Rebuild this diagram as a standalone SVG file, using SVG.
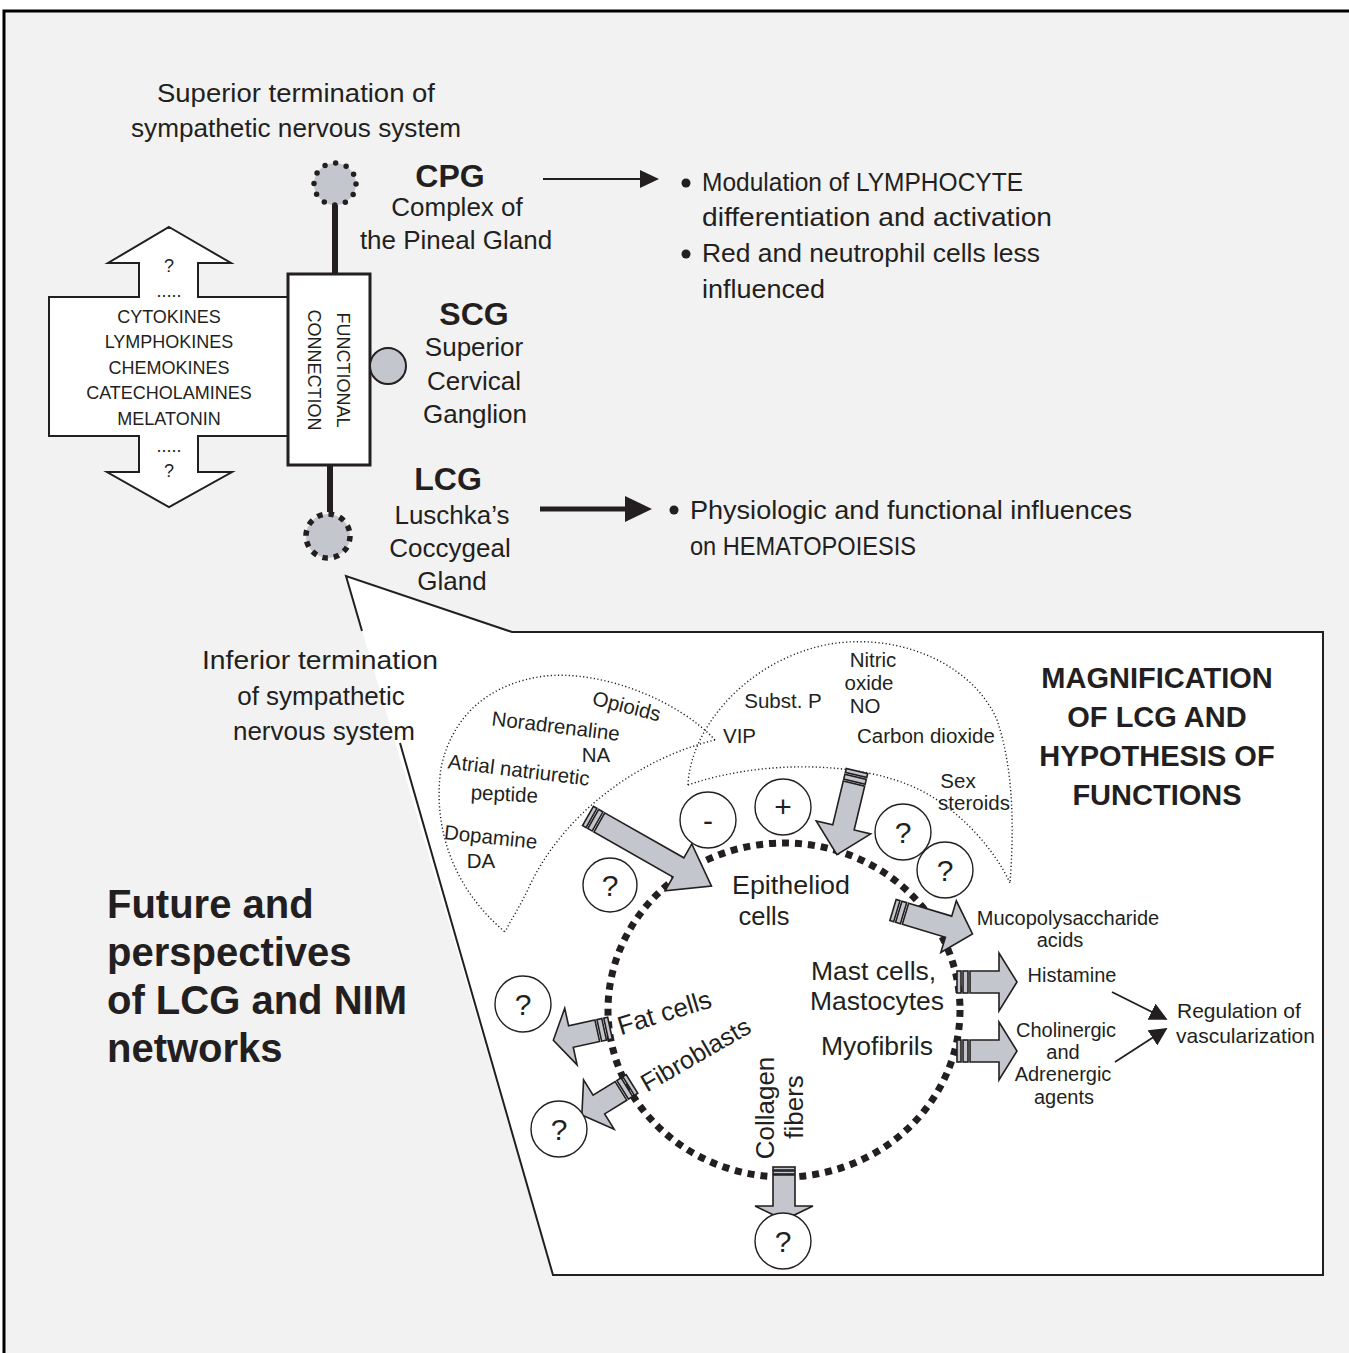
<svg xmlns="http://www.w3.org/2000/svg" width="1349" height="1353" viewBox="0 0 1349 1353">
<defs>
<style>
text{font-family:"Liberation Sans",Arial,sans-serif;fill:#231f20}
.t26{font-size:26px}
.b32{font-size:32px;font-weight:bold}
.r25{font-size:25px}
.c18{font-size:18px}
.f20{font-size:20.5px}
.s20{font-size:20px}
.m{text-anchor:middle}
.dot{fill:none;stroke:#231f20;stroke-width:1.4;stroke-dasharray:1.2 2.4}
.ga{fill:#c3c6cc;stroke:#231f20;stroke-width:1.6;stroke-linejoin:miter}
.qc{fill:#fff;stroke:#231f20;stroke-width:1.4}
.q{font-size:30px;text-anchor:middle}
</style>
<marker id="ah2" viewBox="0 0 10 10" refX="9" refY="5" markerWidth="18" markerHeight="18" markerUnits="userSpaceOnUse" orient="auto"><path d="M0,0 L10,5 L0,10 Z" fill="#231f20"/></marker>
</defs>
<rect x="0" y="0" width="1349" height="1353" fill="#fff"/>
<rect x="4" y="11" width="1370" height="1370" fill="#f2f2f2" stroke="#000" stroke-width="3"/>

<g id="magnification-callout">
<path d="M346,576 L512,632 L1323,632 L1323,1275 L553,1275 Z" fill="#fff"/>
<path d="M362,631 L346,576 L512,632 L1323,632 L1323,1275 L553,1275 L400,743" fill="none" stroke="#231f20" stroke-width="2"/>
</g>

<g id="top-label">
<text class="t26 m" x="296" y="102" textLength="278" lengthAdjust="spacingAndGlyphs">Superior termination of</text>
<text class="t26 m" x="296" y="137" textLength="330" lengthAdjust="spacingAndGlyphs">sympathetic nervous system</text>
</g>

<g id="connectors">
<line x1="335" y1="205" x2="335" y2="274" stroke="#231f20" stroke-width="6"/>
<line x1="330" y1="465" x2="330" y2="512" stroke="#231f20" stroke-width="6"/>
<line x1="543" y1="179" x2="642" y2="179" stroke="#231f20" stroke-width="2"/>
<path d="M640,170 L659,179 L640,188 Z" fill="#231f20"/>
<line x1="540" y1="509" x2="627" y2="509" stroke="#231f20" stroke-width="5"/>
<path d="M625,496 L652,509 L625,522 Z" fill="#231f20"/>
<line x1="1112" y1="992" x2="1166" y2="1019" stroke="#231f20" stroke-width="1.8" marker-end="url(#ah2)"/>
<line x1="1115" y1="1062" x2="1166" y2="1029" stroke="#231f20" stroke-width="1.8" marker-end="url(#ah2)"/>
</g>

<g id="double-arrow">
<path d="M169,227 L231,263 L198,263 L198,297 L288,297 L288,436 L198,436 L198,472 L232,472 L169,507 L107,472 L139,472 L139,436 L49,436 L49,297 L139,297 L139,263 L108,263 Z" fill="#fff" stroke="#231f20" stroke-width="2"/>
<text class="c18 m" x="169" y="272">?</text>
<text class="c18 m" x="169" y="297">.....</text>
<text class="c18 m" x="169" y="323">CYTOKINES</text>
<text class="c18 m" x="169" y="348">LYMPHOKINES</text>
<text class="c18 m" x="169" y="374">CHEMOKINES</text>
<text class="c18 m" x="169" y="399">CATECHOLAMINES</text>
<text class="c18 m" x="169" y="425">MELATONIN</text>
<text class="c18 m" x="169" y="452">.....</text>
<text class="c18 m" x="169" y="477">?</text>
</g>

<g id="functional-connection">
<rect x="288" y="274" width="82" height="191" fill="#fff" stroke="#231f20" stroke-width="3"/>
<text class="c18 m" transform="translate(337,370) rotate(90)">FUNCTIONAL</text>
<text class="c18 m" transform="translate(308,370) rotate(90)">CONNECTION</text>
</g>

<g id="cpg">
<circle cx="335" cy="184" r="21" fill="#c3c6cc" stroke="#231f20" stroke-width="5.5" stroke-linecap="round" stroke-dasharray="0 11"/>
<text class="b32 m" x="450" y="187">CPG</text>
<text class="t26 m" x="457" y="216">Complex of</text>
<text class="t26 m" x="456" y="249">the Pineal Gland</text>
</g>

<g id="scg">
<circle cx="388" cy="366" r="18" fill="#c3c6cc" stroke="#231f20" stroke-width="2"/>
<text class="b32 m" x="474" y="325">SCG</text>
<text class="t26 m" x="474" y="356">Superior</text>
<text class="t26 m" x="474" y="390">Cervical</text>
<text class="t26 m" x="475" y="423">Ganglion</text>
</g>

<g id="lcg">
<circle cx="328" cy="536" r="22" fill="#c3c6cc" stroke="#231f20" stroke-width="5.5" stroke-dasharray="5.5 6"/>
<text class="b32 m" x="448" y="490">LCG</text>
<text class="t26 m" x="452" y="524">Luschka’s</text>
<text class="t26 m" x="450" y="557">Coccygeal</text>
<text class="t26 m" x="452" y="590">Gland</text>
</g>

<g id="cpg-effects">
<circle cx="686" cy="183" r="4.5" fill="#231f20"/>
<text class="r25" x="702" y="191" textLength="321" lengthAdjust="spacingAndGlyphs">Modulation of LYMPHOCYTE</text>
<text class="r25" x="702" y="226" textLength="350" lengthAdjust="spacingAndGlyphs">differentiation and activation</text>
<circle cx="686" cy="254" r="4.5" fill="#231f20"/>
<text class="r25" x="702" y="262" textLength="338" lengthAdjust="spacingAndGlyphs">Red and neutrophil cells less</text>
<text class="r25" x="702" y="298" textLength="123" lengthAdjust="spacingAndGlyphs">influenced</text>
</g>

<g id="lcg-effects">
<circle cx="674" cy="510" r="4.5" fill="#231f20"/>
<text class="r25" x="690" y="519" textLength="442" lengthAdjust="spacingAndGlyphs">Physiologic and functional influences</text>
<text class="r25" x="690" y="555" textLength="226" lengthAdjust="spacingAndGlyphs">on HEMATOPOIESIS</text>
</g>

<g id="inferior-label">
<text class="t26 m" x="320" y="669" textLength="236" lengthAdjust="spacingAndGlyphs">Inferior termination</text>
<text class="t26 m" x="321" y="705">of sympathetic</text>
<text class="t26 m" x="324" y="740">nervous system</text>
</g>

<g id="future-title">
<text x="107" y="918" font-size="40" font-weight="bold">Future and</text>
<text x="107" y="966" font-size="40" font-weight="bold">perspectives</text>
<text x="107" y="1014" font-size="40" font-weight="bold">of LCG and NIM</text>
<text x="107" y="1062" font-size="40" font-weight="bold">networks</text>
</g>

<g id="magnification-title">
<text class="m" x="1157" y="688" font-size="29" font-weight="bold">MAGNIFICATION</text>
<text class="m" x="1157" y="727" font-size="29" font-weight="bold">OF LCG AND</text>
<text class="m" x="1157" y="766" font-size="29" font-weight="bold">HYPOTHESIS OF</text>
<text class="m" x="1157" y="805" font-size="29" font-weight="bold">FUNCTIONS</text>
</g>

<g id="left-fan">
<path class="dot" d="M715,740 C680,702 605,670 545,676 C490,683 452,715 441,768 C432,830 455,890 505,932"/>
<path class="dot" d="M715,740 C640,758 565,812 530,885 C522,903 512,918 505,932"/>
<text class="f20 m" transform="translate(625,713) rotate(14)">Opioids</text>
<text class="f20 m" transform="translate(555,733) rotate(7)">Noradrenaline</text>
<text class="f20 m" x="596" y="762">NA</text>
<text class="f20 m" transform="translate(518,777) rotate(7)">Atrial natriuretic</text>
<text class="f20 m" transform="translate(504,801) rotate(3)">peptide</text>
<text class="f20 m" transform="translate(490,844) rotate(6)">Dopamine</text>
<text class="f20 m" x="481" y="868">DA</text>
</g>

<g id="right-fan">
<path class="dot" d="M688,785 C690,730 745,660 830,644 C905,632 975,668 997,720 C1014,770 1014,830 1010,883"/>
<path class="dot" d="M688,785 C760,760 860,760 920,790 C960,810 995,850 1010,883"/>
<text class="f20 m" x="873" y="667">Nitric</text>
<text class="f20 m" x="869" y="690">oxide</text>
<text class="f20 m" x="865" y="713">NO</text>
<text class="f20 m" x="783" y="708">Subst. P</text>
<text class="f20" x="723" y="743">VIP</text>
<text class="f20" x="857" y="743">Carbon dioxide</text>
<text class="f20 m" x="958" y="788">Sex</text>
<text class="f20 m" x="974" y="810">steroids</text>
</g>

<g id="epitheliod-cells">
<ellipse cx="784" cy="1010" rx="176" ry="167" fill="none" stroke="#231f20" stroke-width="7" stroke-dasharray="7 6"/>
<text class="m" x="791" y="894" font-size="25.5" textLength="118" lengthAdjust="spacingAndGlyphs">Epitheliod</text>
<text class="m" x="764" y="925" font-size="25.5">cells</text>
<text x="811" y="980" font-size="26.5">Mast cells,</text>
<text x="810" y="1010" font-size="26.5">Mastocytes</text>
<text x="821" y="1055" font-size="26.5">Myofibrils</text>
<text class="m" transform="translate(667,1021) rotate(-17)" font-size="26">Fat cells</text>
<text class="m" transform="translate(700,1062) rotate(-30)" font-size="25">Fibroblasts</text>
<text class="m" transform="translate(774,1108) rotate(-90)" font-size="26">Collagen</text>
<text class="m" transform="translate(803,1107) rotate(-90)" font-size="26">fibers</text>
</g>

<g id="arrow-in-1" transform="translate(588,816) rotate(29.6)">
<rect class="ga" x="0" y="-11" width="4" height="22"/><rect class="ga" x="6" y="-11" width="5" height="22"/>
<path class="ga" d="M13,-11 L104,-11 L104,-27 L142,0 L104,27 L104,11 L13,11 Z"/>
</g>
<g id="arrow-in-2" transform="translate(857,771) rotate(103.5)">
<rect class="ga" x="0" y="-11" width="4" height="22"/><rect class="ga" x="6" y="-11" width="5" height="22"/>
<path class="ga" d="M13,-11 L58,-11 L58,-28 L86,0 L58,28 L58,11 L13,11 Z"/>
</g>
<g id="arrow-out-muco" transform="translate(893,910) rotate(16.7)">
<rect class="ga" x="0" y="-11" width="4" height="22"/><rect class="ga" x="6" y="-11" width="5" height="22"/>
<path class="ga" d="M13,-11 L58,-11 L58,-27 L83,0 L58,27 L58,11 L13,11 Z"/>
</g>
<g id="arrow-out-histamine" transform="translate(957,982)">
<rect class="ga" x="0" y="-11" width="4" height="22"/><rect class="ga" x="6" y="-11" width="5" height="22"/>
<path class="ga" d="M13,-11 L42,-11 L42,-29 L60,0 L42,29 L42,11 L13,11 Z"/>
</g>
<g id="arrow-out-cholinergic" transform="translate(957,1051)">
<rect class="ga" x="0" y="-11" width="4" height="22"/><rect class="ga" x="6" y="-11" width="5" height="22"/>
<path class="ga" d="M13,-11 L42,-11 L42,-29 L60,0 L42,29 L42,11 L13,11 Z"/>
</g>
<g id="arrow-out-fat" transform="translate(610,1028) rotate(167.7)">
<rect class="ga" x="0" y="-11" width="4" height="22"/><rect class="ga" x="6" y="-11" width="5" height="22"/>
<path class="ga" d="M13,-11 L40,-11 L40,-29 L58,0 L40,29 L40,11 L13,11 Z"/>
</g>
<g id="arrow-out-fibro" transform="translate(632,1084) rotate(148.2)">
<rect class="ga" x="0" y="-11" width="4" height="22"/><rect class="ga" x="6" y="-11" width="5" height="22"/>
<path class="ga" d="M13,-11 L39,-11 L39,-29 L59,0 L39,29 L39,11 L13,11 Z"/>
</g>
<g id="arrow-out-collagen" transform="translate(784,1167) rotate(90)">
<rect class="ga" x="0" y="-11" width="3" height="22"/><rect class="ga" x="4" y="-11" width="3" height="22"/>
<path class="ga" d="M8,-11 L39,-11 L39,-29 L53,0 L39,29 L39,11 L8,11 Z"/>
</g>

<g id="sign-minus"><circle class="qc" cx="708" cy="820" r="28"/><text class="q" x="708" y="831">-</text></g>
<g id="sign-plus"><circle class="qc" cx="783" cy="807" r="28"/><text class="q" x="783" y="817">+</text></g>
<g id="q-1"><circle class="qc" cx="903" cy="832" r="28"/><text class="q" x="903" y="843">?</text></g>
<g id="q-2"><circle class="qc" cx="945" cy="870" r="28"/><text class="q" x="945" y="881">?</text></g>
<g id="q-3"><circle class="qc" cx="610" cy="885" r="27"/><text class="q" x="610" y="896">?</text></g>
<g id="q-fat"><circle class="qc" cx="523" cy="1004" r="28"/><text class="q" x="523" y="1015">?</text></g>
<g id="q-fibro"><circle class="qc" cx="559" cy="1129" r="28"/><text class="q" x="559" y="1140">?</text></g>
<g id="q-collagen"><circle class="qc" cx="783" cy="1241" r="28"/><text class="q" x="783" y="1252">?</text></g>

<g id="outputs">
<text class="s20 m" x="1068" y="925">Mucopolysaccharide</text>
<text class="s20 m" x="1060" y="947">acids</text>
<text class="s20 m" x="1072" y="982">Histamine</text>
<text class="s20 m" x="1066" y="1037">Cholinergic</text>
<text class="s20 m" x="1063" y="1059">and</text>
<text class="s20 m" x="1063" y="1081">Adrenergic</text>
<text class="s20 m" x="1064" y="1104">agents</text>
<text x="1177" y="1018" font-size="21">Regulation of</text>
<text x="1176" y="1043" font-size="21">vascularization</text>
</g>
</svg>
